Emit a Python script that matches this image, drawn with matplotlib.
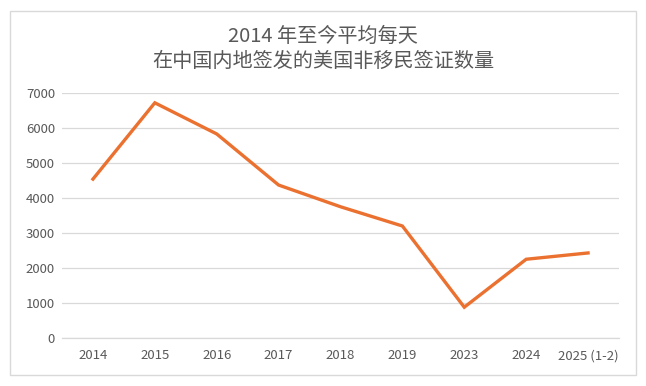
import matplotlib

matplotlib.use("Agg")
import matplotlib.pyplot as plt
from matplotlib.patches import Rectangle

plt.rcParams["font.family"] = ["Noto Sans CJK SC", "DejaVu Sans"]

years = ["2014", "2015", "2016", "2017", "2018", "2019", "2023", "2024", "2025 (1-2)"]
visas_per_day = [4540, 6720, 5830, 4370, 3750, 3200, 880, 2250, 2430]
y_ticks = [0, 1000, 2000, 3000, 4000, 5000, 6000, 7000]
title = "2014 年至今平均每天\n在中国内地签发的美国非移民签证数量"

text_color = "#595959"
grid_color = "#d9d9d9"
line_color = "#EB7130"

fig = plt.figure(figsize=(6.46, 3.86), dpi=100)
ax = fig.add_axes([62 / 646, 1 - 338 / 386, (619 - 62) / 646, (338 - 93) / 386])

x = list(range(len(years)))
ax.plot(x, visas_per_day, color=line_color, linewidth=2.4, solid_joinstyle="miter")

ax.set_xlim(-0.5, len(years) - 0.5)
ax.set_ylim(0, 7000)
ax.set_xticks(x)
ax.set_xticklabels(years)
ax.set_yticks(y_ticks)
ax.set_yticklabels([str(v) for v in y_ticks])
ax.grid(axis="y", color=grid_color, linewidth=0.9)
ax.set_axisbelow(True)
ax.spines[["top", "right", "left"]].set_visible(False)
ax.spines["bottom"].set_color(grid_color)
ax.spines["bottom"].set_linewidth(0.9)
ax.tick_params(length=0, labelsize=9.5, labelcolor=text_color)
ax.tick_params(axis="y", pad=5)
ax.tick_params(axis="x", pad=8)

fig.text(0.5, 1 - 49 / 386, title, ha="center", va="center", fontsize=14.5,
         color=text_color, linespacing=1.3, fontweight="light")

fig.patches.append(
    Rectangle((10 / 646, 11 / 386), 626 / 646, 364 / 386, transform=fig.transFigure,
              fill=False, edgecolor=grid_color, linewidth=1.0)
)

fig.savefig("out.png", dpi=100)
